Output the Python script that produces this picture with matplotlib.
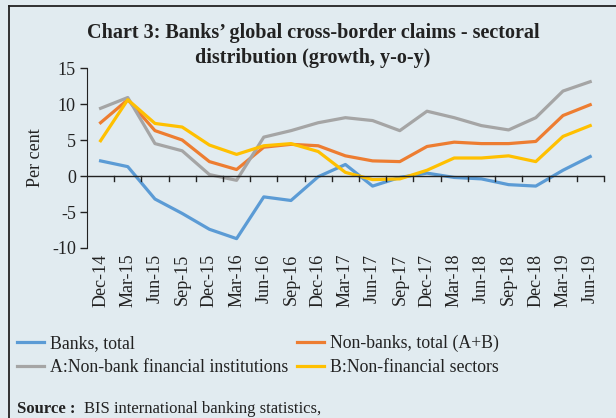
import matplotlib
matplotlib.use("Agg")
import matplotlib.pyplot as plt
from matplotlib.lines import Line2D

plt.rcParams['font.family'] = ['Liberation Serif', 'DejaVu Serif']
plt.rcParams['axes.unicode_minus'] = False

# quarterly y-o-y growth, per cent
quarters = ['Dec-14', 'Mar-15', 'Jun-15', 'Sep-15', 'Dec-15', 'Mar-16', 'Jun-16',
            'Sep-16', 'Dec-16', 'Mar-17', 'Jun-17', 'Sep-17', 'Dec-17', 'Mar-18',
            'Jun-18', 'Sep-18', 'Dec-18', 'Mar-19', 'Jun-19']
banks = [2.1, 1.3, -3.2, -5.2, -7.4, -8.7, -2.9, -3.4, -0.1, 1.6,
         -1.4, -0.2, 0.4, -0.2, -0.4, -1.2, -1.4, 0.8, 2.7]
non_banks = [7.4, 10.6, 6.3, 5.0, 2.0, 0.9, 4.0, 4.4, 4.2, 2.8,
             2.1, 2.0, 4.1, 4.7, 4.5, 4.5, 4.8, 8.4, 9.9]
nbfi = [9.4, 10.9, 4.5, 3.5, 0.2, -0.6, 5.4, 6.3, 7.4, 8.1,
        7.7, 6.3, 9.0, 8.1, 7.0, 6.4, 8.1, 11.8, 13.1]
non_fin = [4.9, 10.6, 7.3, 6.8, 4.3, 3.0, 4.2, 4.5, 3.4, 0.5,
           -0.5, -0.4, 0.8, 2.5, 2.5, 2.8, 2.0, 5.5, 7.0]

bg = '#e1ebf0'
ink = '#222222'
fig = plt.figure(figsize=(6.16, 4.18), dpi=100, facecolor=bg)
ax = fig.add_axes([0.1412, 0.4067, 0.8390, 0.4306])
ax.set_facecolor(bg)

x = list(range(len(quarters)))
lw = 2.3
ax.plot(x, banks, color='#5b9bd5', lw=lw, label='Banks, total')
ax.plot(x, non_banks, color='#ed7d31', lw=lw, label='Non-banks, total (A+B)')
ax.plot(x, nbfi, color='#a5a5a5', lw=lw, label='A:Non-bank financial institutions')
ax.plot(x, non_fin, color='#ffc000', lw=lw, label='B:Non-financial sectors')

ax.set_xlim(-0.5, len(quarters) - 0.5)
ax.set_ylim(-10, 15)
ax.set_yticks([-10, -5, 0, 5, 10, 15])
ax.tick_params(axis='y', labelsize=13, length=5, width=1, colors=ink, pad=3)

# category labels at the bottom, ticks between categories on the zero line
ax.set_xticks(x)
ax.set_xticklabels(quarters, rotation=90, fontsize=13, color=ink)
ax.tick_params(axis='x', length=0, pad=4)
for b in range(1, len(quarters) + 1):
    ax.plot([b - 0.5, b - 0.5], [0, -0.7], color=ink, lw=1, clip_on=False)
ax.axhline(0, color=ink, lw=1)

for s in ['top', 'right', 'bottom']:
    ax.spines[s].set_visible(False)
ax.spines['left'].set_color(ink)

ax.set_ylabel('Per cent', fontsize=13, color=ink, labelpad=6)

fig.text(0.508, 0.921, "Chart 3: Banks\u2019 global cross-border claims - sectoral",
         ha='center', va='center', fontsize=14.5, fontweight='bold', color=ink)
fig.text(0.508, 0.861, "distribution (growth, y-o-y)",
         ha='center', va='center', fontsize=14.5, fontweight='bold', color=ink)

# legend fills column-wise, so reorder to get two rows of two
handles, labels = ax.get_legend_handles_labels()
order = [0, 2, 1, 3]
fig.legend([handles[i] for i in order], [labels[i] for i in order],
           loc='upper left', bbox_to_anchor=(0.016, 0.216), ncol=2,
           frameon=False, fontsize=12.8, handlelength=1.5, handletextpad=0.35,
           columnspacing=0.5, labelspacing=0.4, borderaxespad=0,
           labelcolor=ink)

fig.text(0.028, 0.012, 'Source :', fontsize=12, fontweight='bold', color=ink)
fig.text(0.137, 0.012, 'BIS international banking statistics,', fontsize=12,
         color=ink)

# frame lines along the top and left edges
fig.add_artist(Line2D([0.0146, 0.0146], [0, 0.985], color=ink, lw=1.3))
fig.add_artist(Line2D([0.0146, 1.0], [0.985, 0.985], color=ink, lw=1.3))

fig.savefig('out.png', dpi=100, facecolor=bg)
